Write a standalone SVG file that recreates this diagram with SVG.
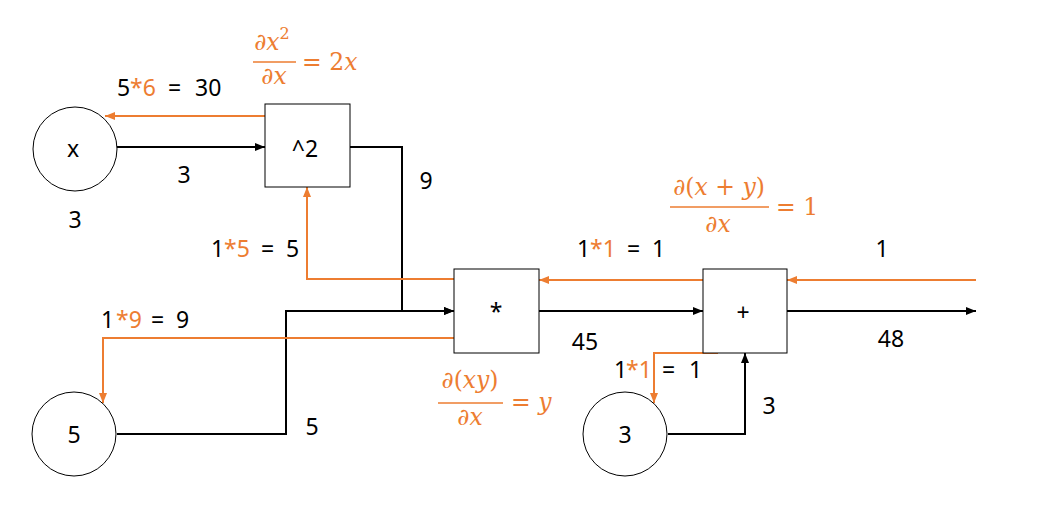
<svg xmlns="http://www.w3.org/2000/svg" width="1040" height="518" viewBox="0 0 1040 518">
<style>
.node{fill:#fff;stroke:#000;stroke-width:1}
.t{font-family:"Noto Sans","Open Sans","DejaVu Sans",sans-serif;font-size:23px;fill:#000}
.c{text-anchor:middle}
.o{fill:#ED7D31}
.blk{fill:none;stroke:#000;stroke-width:2}
.org{fill:none;stroke:#ED7D31;stroke-width:2}
.m{font-family:"DejaVu Serif","Liberation Serif",serif;font-size:23.5px;fill:#ED7D31;font-style:italic}
.up{font-style:normal}
.bar{stroke:#ED7D31;stroke-width:1.6}
</style>
<defs>
<marker id="ab" markerUnits="userSpaceOnUse" markerWidth="10" markerHeight="8" refX="10" refY="4" orient="auto"><path d="M0,0 L10,4 L0,8 z" fill="#000"/></marker>
<marker id="ao" markerUnits="userSpaceOnUse" markerWidth="10" markerHeight="8" refX="10" refY="4" orient="auto"><path d="M0,0 L10,4 L0,8 z" fill="#ED7D31"/></marker>
</defs>
<rect width="1040" height="518" fill="#fff"/>
<g id="connectors">
<path class="blk" d="M117,147 H265" marker-end="url(#ab)"/>
<path class="blk" d="M350,147 H402 V311 H454" marker-end="url(#ab)"/>
<path class="blk" d="M117,434 H286 V311 H454" marker-end="url(#ab)"/>
<path class="blk" d="M539,311 H703" marker-end="url(#ab)"/>
<path class="blk" d="M787,311 H976" marker-end="url(#ab)"/>
<path class="blk" d="M668,434 H745 V353" marker-end="url(#ab)"/>
<path class="org" d="M265,116 H105" marker-end="url(#ao)"/>
<path class="org" d="M454,279 H307 V187" marker-end="url(#ao)"/>
<path class="org" d="M454,338 H103 V403" marker-end="url(#ao)"/>
<path class="org" d="M703,280 H539" marker-end="url(#ao)"/>
<path class="org" d="M976,280 H787" marker-end="url(#ao)"/>
<path class="org" d="M718,353 H654 V403" marker-end="url(#ao)"/>
</g>
<g id="node-x"><circle class="node" cx="75" cy="149" r="42"/><text class="t c" x="73" y="157">x</text></g>
<g id="node-sq"><rect class="node" x="265" y="104" width="85" height="83"/><text class="t c" x="305" y="157">^2</text></g>
<g id="node-mul"><rect class="node" x="454" y="269" width="85" height="84"/><text class="t c" x="496" y="320">*</text></g>
<g id="node-add"><rect class="node" x="703" y="269" width="84" height="84"/><text class="t c" x="743" y="321">+</text></g>
<g id="node-5"><circle class="node" cx="74" cy="434" r="42"/><text class="t c" x="74" y="443">5</text></g>
<g id="node-3"><circle class="node" cx="625" cy="434" r="42"/><text class="t c" x="625" y="443">3</text></g>
<g id="labels">
<text class="t c" x="184" y="183">3</text>
<text class="t c" x="75" y="228">3</text>
<text class="t c" x="426" y="189">9</text>
<text class="t c" x="312" y="435">5</text>
<text class="t c" x="585" y="350">45</text>
<text class="t c" x="891" y="347">48</text>
<text class="t c" x="769" y="414">3</text>
<text class="t c" x="882" y="257">1</text>
<text class="t" y="96"><tspan x="117">5</tspan><tspan class="o" x="130">*6</tspan><tspan x="168">=</tspan><tspan x="195">30</tspan></text>
<text class="t" y="257"><tspan x="211">1</tspan><tspan class="o" x="224">*5</tspan><tspan x="261">=</tspan><tspan x="286">5</tspan></text>
<text class="t" y="328"><tspan x="101">1</tspan><tspan class="o" x="116">*9</tspan><tspan x="151">=</tspan><tspan x="176">9</tspan></text>
<text class="t" y="257"><tspan x="577">1</tspan><tspan class="o" x="590">*1</tspan><tspan x="627">=</tspan><tspan x="652">1</tspan></text>
<text class="t" y="378"><tspan x="614">1</tspan><tspan class="o" x="626">*1</tspan><tspan x="662">=</tspan><tspan x="689">1</tspan></text>
</g>
<g id="formulas">
<text class="m c" x="272" y="50">∂x<tspan font-size="16" dy="-11" class="up">2</tspan></text>
<line class="bar" x1="253" y1="62" x2="296" y2="62"/>
<text class="m c" x="274" y="84">∂x</text>
<text class="m" x="302" y="70"><tspan class="up">= 2</tspan>x</text>
<text class="m c" x="719" y="195"><tspan class="up">∂(</tspan>x<tspan class="up"> + </tspan>y<tspan class="up">)</tspan></text>
<line class="bar" x1="670" y1="207" x2="769" y2="207"/>
<text class="m c" x="718" y="232">∂x</text>
<text class="m up" x="776" y="215">= 1</text>
<text class="m c" x="470" y="388"><tspan class="up">∂(</tspan>xy<tspan class="up">)</tspan></text>
<line class="bar" x1="438" y1="403" x2="503" y2="403"/>
<text class="m c" x="470" y="425">∂x</text>
<text class="m" x="511" y="410"><tspan class="up">= </tspan>y</text>
</g>
</svg>
